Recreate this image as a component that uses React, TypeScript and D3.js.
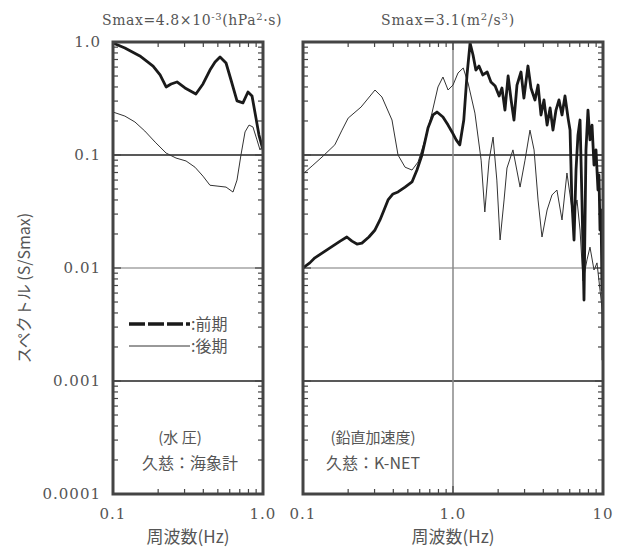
import React from "react";
import * as d3 from "d3";

// ---------- data ----------
const LEFT_EARLY_F = [0.1, 0.12, 0.151, 0.185, 0.206, 0.226, 0.244, 0.267, 0.302, 0.357, 0.398, 0.443, 0.479, 0.517, 0.567, 0.612, 0.671, 0.735, 0.794, 0.845, 0.898, 0.94, 1.0];
const LEFT_EARLY_V = [0.98, 0.885, 0.752, 0.613, 0.511, 0.4, 0.425, 0.443, 0.392, 0.347, 0.425, 0.565, 0.665, 0.737, 0.652, 0.461, 0.301, 0.289, 0.361, 0.333, 0.212, 0.15, 0.111];

const LEFT_LATE_F = [0.1, 0.12, 0.14, 0.163, 0.191, 0.226, 0.263, 0.307, 0.352, 0.398, 0.443, 0.501, 0.567, 0.631, 0.671, 0.713, 0.759, 0.807, 0.857, 0.912, 0.955, 1.0];
const LEFT_LATE_V = [0.24, 0.221, 0.196, 0.163, 0.13, 0.104, 0.094, 0.0885, 0.078, 0.065, 0.054, 0.053, 0.052, 0.047, 0.06, 0.1, 0.16, 0.184, 0.177, 0.136, 0.111, 0.123];

const RIGHT_EARLY_F = [0.1, 0.111, 0.12, 0.147, 0.177, 0.196, 0.212, 0.229, 0.247, 0.275, 0.302, 0.326, 0.347, 0.369, 0.398, 0.43, 0.479, 0.533, 0.575, 0.621, 0.681, 0.736, 0.782, 0.857, 0.927, 0.985, 1.05, 1.11, 1.18, 1.24, 1.3, 1.36, 1.42, 1.49, 1.58, 1.69, 1.79, 1.91, 2.03, 2.12, 2.22, 2.33, 2.44, 2.55, 2.67, 2.84, 2.97, 3.16, 3.31, 3.52, 3.69, 3.86, 4.04, 4.24, 4.44, 4.64, 4.86, 5.09, 5.33, 5.58, 5.85, 6.03, 6.2, 6.41, 6.61, 6.81, 7.03, 7.24, 7.47, 7.7, 7.94, 8.19, 8.45, 8.71, 8.98, 9.26, 9.4, 9.55, 9.7, 9.85, 9.92, 10.0];
const RIGHT_EARLY_V = [0.01, 0.0111, 0.0123, 0.0147, 0.0173, 0.0188, 0.0173, 0.0163, 0.0166, 0.0188, 0.0217, 0.0266, 0.0326, 0.04, 0.0452, 0.0471, 0.052, 0.0577, 0.0736, 0.1, 0.173, 0.226, 0.24, 0.217, 0.184, 0.16, 0.136, 0.123, 0.204, 0.511, 0.98, 0.767, 0.565, 0.613, 0.511, 0.543, 0.443, 0.408, 0.333, 0.392, 0.25, 0.5, 0.307, 0.204, 0.416, 0.543, 0.319, 0.613, 0.392, 0.307, 0.416, 0.226, 0.307, 0.184, 0.261, 0.166, 0.25, 0.307, 0.226, 0.333, 0.212, 0.166, 0.04, 0.0177, 0.0736, 0.15, 0.204, 0.04, 0.0052, 0.111, 0.25, 0.136, 0.184, 0.0816, 0.111, 0.049, 0.0665, 0.0217, 0.0326, 0.00638, 0.0144, 0.00153];

const RIGHT_LATE_F = [0.1, 0.115, 0.134, 0.163, 0.182, 0.2, 0.244, 0.302, 0.336, 0.392, 0.43, 0.479, 0.533, 0.585, 0.65, 0.724, 0.794, 0.857, 0.927, 1.0, 1.08, 1.17, 1.26, 1.4, 1.54, 1.63, 1.74, 1.85, 1.96, 2.06, 2.19, 2.29, 2.51, 2.8, 3.02, 3.26, 3.47, 3.69, 3.92, 4.24, 4.57, 4.93, 5.33, 5.75, 6.03, 6.31, 6.71, 7.03, 7.36, 7.82, 8.19, 8.71, 9.12, 9.55, 10.0];
const RIGHT_LATE_V = [0.068, 0.08, 0.096, 0.123, 0.166, 0.212, 0.266, 0.376, 0.326, 0.204, 0.1, 0.078, 0.0736, 0.0867, 0.136, 0.235, 0.4, 0.49, 0.376, 0.416, 0.532, 0.589, 0.434, 0.235, 0.09, 0.0313, 0.09, 0.144, 0.06, 0.0177, 0.04, 0.0767, 0.111, 0.052, 0.09, 0.166, 0.111, 0.04, 0.0188, 0.0326, 0.0443, 0.049, 0.0266, 0.0693, 0.0443, 0.0283, 0.04, 0.0217, 0.0077, 0.0118, 0.0153, 0.0096, 0.0111, 0.00638, 0.00368];

const Y_TICKS = [1, 0.1, 0.01, 0.001, 0.0001];
const Y_TICK_LABELS = ["1.0", "0.1", "0.01", "0.001", "0.0001"];
const LEFT_X_TICKS = [0.1, 1];
const LEFT_X_LABELS = ["0.1", "1.0"];
const RIGHT_X_TICKS = [0.1, 1, 10];
const RIGHT_X_LABELS = ["0.1", "1.0", "10"];

// ---------- layout ----------
const TOP = 42;
const BOTTOM = 494;
const L_LEFT = 113;
const L_RIGHT = 263;
const R_LEFT = 303;
const R_RIGHT = 603;

const yScale = d3.scaleLog().domain([0.0001, 1]).range([BOTTOM, TOP]);
const xLeft = d3.scaleLog().domain([0.1, 1]).range([L_LEFT, L_RIGHT]);
const xRight = d3.scaleLog().domain([0.1, 10]).range([R_LEFT, R_RIGHT]);

const serif = "'DejaVu Serif', 'Liberation Serif', serif";
const jp = "'Noto Sans CJK JP', sans-serif";
const textCol = "#555";

function minorValues(lo: number, hi: number) {
  const out: { v: number; major: boolean }[] = [];
  for (let e = Math.round(Math.log10(lo)); e < Math.round(Math.log10(hi)); e++) {
    for (let k = 1; k <= 9; k++) {
      const v = k * Math.pow(10, e);
      if (v > lo * 1.0001 && v < hi * 0.9999) out.push({ v, major: k === 1 });
    }
  }
  return out;
}

function Panel({ x, xTicks, xLabels, series, vline, clipId }: any) {
  const [x0, x1] = x.range();
  const line = d3
    .line<[number, number]>()
    .x((d) => x(d[0]))
    .y((d) => yScale(d[1]));
  const yMinor = minorValues(0.0001, 1);
  const xMinor = minorValues(x.domain()[0], x.domain()[1]);
  return (
    <g>
      <defs>
        <clipPath id={clipId}>
          <rect x={x0} y={TOP} width={x1 - x0} height={BOTTOM - TOP} />
        </clipPath>
      </defs>
      <line x1={x0} x2={x1} y1={yScale(0.1)} y2={yScale(0.1)} stroke="#222" strokeWidth={1.6} />
      <line x1={x0} x2={x1} y1={yScale(0.01)} y2={yScale(0.01)} stroke="#bbb" strokeWidth={2} />
      <line x1={x0} x2={x1} y1={yScale(0.001)} y2={yScale(0.001)} stroke="#222" strokeWidth={1.6} />
      {vline !== undefined && (
        <line x1={x(vline)} x2={x(vline)} y1={TOP} y2={BOTTOM} stroke="#888" strokeWidth={1.5} />
      )}
      {yMinor.map((t, i) => (
        <g key={"y" + i}>
          <line x1={x0} x2={x0 + (t.major ? 8 : 5)} y1={yScale(t.v)} y2={yScale(t.v)} stroke="#444" strokeWidth={1.2} />
          <line x1={x1} x2={x1 - (t.major ? 8 : 5)} y1={yScale(t.v)} y2={yScale(t.v)} stroke="#444" strokeWidth={1.2} />
        </g>
      ))}
      {xMinor.map((t, i) => (
        <g key={"x" + i}>
          <line x1={x(t.v)} x2={x(t.v)} y1={TOP} y2={TOP + (t.major ? 8 : 5)} stroke="#444" strokeWidth={1.2} />
          <line x1={x(t.v)} x2={x(t.v)} y1={BOTTOM} y2={BOTTOM - (t.major ? 8 : 5)} stroke="#444" strokeWidth={1.2} />
        </g>
      ))}
      <g clipPath={`url(#${clipId})`}>
        {series.map((s: any, i: number) => (
          <path
            key={i}
            d={line(s.f.map((f: number, j: number) => [f, s.v[j]]) as [number, number][]) || ""}
            fill="none"
            stroke={s.thick ? "#1a1a1a" : "#333"}
            strokeWidth={s.thick ? 2.8 : 1}
            strokeLinejoin="round"
          />
        ))}
      </g>
      <rect x={x0} y={TOP} width={x1 - x0} height={BOTTOM - TOP} fill="none" stroke="#444" strokeWidth={3} />
      {xTicks.map((t: number, i: number) => (
        <text key={i} x={x(t)} y={519} textAnchor="middle" fontFamily={serif} fontSize={15} fill={textCol} letterSpacing={1}>
          {xLabels[i]}
        </text>
      ))}
      <text x={(x0 + x1) / 2} y={543} textAnchor="middle" fontFamily={jp} fontSize={17} fill={textCol}>
        周波数(Hz)
      </text>
    </g>
  );
}

export default function App() {
  return (
    <svg width={629} height={550} style={{ position: "absolute", left: 0, top: 0, background: "#fff" }}>
      <rect width={629} height={550} fill="#fff" />
      <text x={192} y={25} textAnchor="middle" fontFamily={serif} fontSize={14} fill={textCol} letterSpacing={0.6}>
        Smax=4.8×10
        <tspan dy={-5} fontSize={10}>-3</tspan>
        <tspan dy={5}>(hPa</tspan>
        <tspan dy={-5} fontSize={10}>2</tspan>
        <tspan dy={5}>·s)</tspan>
      </text>
      <text x={448} y={25} textAnchor="middle" fontFamily={serif} fontSize={14} fill={textCol} letterSpacing={0.8}>
        Smax=3.1(m
        <tspan dy={-5} fontSize={10}>2</tspan>
        <tspan dy={5}>/s</tspan>
        <tspan dy={-5} fontSize={10}>3</tspan>
        <tspan dy={5}>)</tspan>
      </text>

      {Y_TICKS.map((t, i) => (
        <text key={i} x={101} y={yScale(t) + 5} textAnchor="end" fontFamily={serif} fontSize={15} fill={textCol} letterSpacing={1}>
          {Y_TICK_LABELS[i]}
        </text>
      ))}
      <text
        transform={`translate(30,${(TOP + BOTTOM) / 2 + 20}) rotate(-90)`}
        textAnchor="middle"
        fontFamily={jp}
        fontSize={16}
        fill={textCol}
      >
        スペクトル (S/Smax)
      </text>

      <Panel
        x={xLeft}
        xTicks={LEFT_X_TICKS}
        xLabels={LEFT_X_LABELS}
        clipId="clipL"
        series={[
          { f: LEFT_LATE_F, v: LEFT_LATE_V, thick: false },
          { f: LEFT_EARLY_F, v: LEFT_EARLY_V, thick: true },
        ]}
      />
      <Panel
        x={xRight}
        xTicks={RIGHT_X_TICKS}
        xLabels={RIGHT_X_LABELS}
        clipId="clipR"
        vline={1}
        series={[
          { f: RIGHT_LATE_F, v: RIGHT_LATE_V, thick: false },
          { f: RIGHT_EARLY_F, v: RIGHT_EARLY_V, thick: true },
        ]}
      />

      <line x1={129} x2={190} y1={324} y2={324} stroke="#1a1a1a" strokeWidth={3.5} strokeDasharray="16,3" />
      <text x={191} y={330} fontFamily={jp} fontSize={16} fill={textCol}>:前期</text>
      <line x1={129} x2={190} y1={346} y2={346} stroke="#333" strokeWidth={1} />
      <text x={191} y={352} fontFamily={jp} fontSize={16} fill={textCol}>:後期</text>

      <text x={180} y={443} textAnchor="middle" fontFamily={jp} fontSize={15} fill={textCol}>(水 圧)</text>
      <text x={190} y={469} textAnchor="middle" fontFamily={jp} fontSize={16} fill={textCol}>久慈：海象計</text>
      <text x={373} y={443} textAnchor="middle" fontFamily={jp} fontSize={15} fill={textCol}>(鉛直加速度)</text>
      <text x={373} y={469} textAnchor="middle" fontFamily={jp} fontSize={16} fill={textCol}>久慈：K-NET</text>
    </svg>
  );
}
